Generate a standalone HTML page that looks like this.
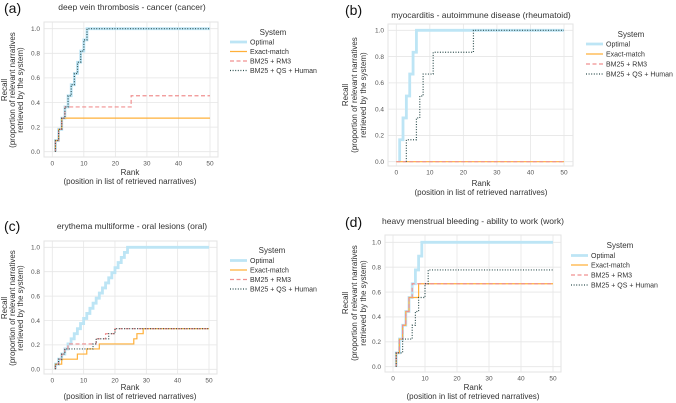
<!DOCTYPE html>
<html><head><meta charset="utf-8">
<style>
html,body{margin:0;padding:0;background:#fff;}
svg{display:block;font-family:"Liberation Sans",sans-serif;}
</style></head>
<body>
<svg id="fig" width="676" height="403" viewBox="0 0 676 403"></svg>
<script>
// ---- data (change points: rank at which recall steps up, recall value) ----
const xTicks=[0,10,20,30,40,50];
const yTicks=[0.0,0.2,0.4,0.6,0.8,1.0];
const seriesNames=["Optimal","Exact-match","BM25 + RM3","BM25 + QS + Human"];
const panelTitles=["deep vein thrombosis - cancer (cancer)","myocarditis - autoimmune disease (rheumatoid)","erythema multiforme - oral lesions (oral)","heavy menstrual bleeding - ability to work (work)"];
const panelLetters=["(a)","(b)","(c)","(d)"];

const aOptRanks=[1,2,3,4,5,6,7,8,9,10,11];
const aOptRecall=[0.091,0.182,0.273,0.364,0.455,0.545,0.636,0.727,0.818,0.909,1.0];
const aExactRanks=[1,2,3];
const aExactRecall=[0.091,0.182,0.273];
const aRm3Ranks=[1,2,3,4,25];
const aRm3Recall=[0.091,0.182,0.273,0.364,0.455];
const aQsRanks=[1,2,3,4,5,6,7,8,9,10,11];
const aQsRecall=[0.091,0.182,0.273,0.364,0.455,0.545,0.636,0.727,0.818,0.909,1.0];

const bOptRanks=[1,2,3,4,5,6];
const bOptRecall=[0.167,0.333,0.5,0.667,0.833,1.0];
const bExactRanks=[0];
const bExactRecall=[0];
const bRm3Ranks=[0];
const bRm3Recall=[0];
const bQsRanks=[3,6,7,8,11,23];
const bQsRecall=[0.167,0.333,0.5,0.667,0.833,1.0];

const cOptRanks=[1,2,3,4,5,6,7,8,9,10,11,12,13,14,15,16,17,18,19,20,21,22,23,24];
const cOptRecall=[0.042,0.083,0.125,0.167,0.208,0.25,0.292,0.333,0.375,0.417,0.458,0.5,0.542,0.583,0.625,0.667,0.708,0.75,0.792,0.833,0.875,0.917,0.958,1.0];
const cExactRanks=[1,3,8,11,15,26,27,29];
const cExactRecall=[0.042,0.083,0.125,0.167,0.208,0.25,0.292,0.333];
const cRm3Ranks=[1,2,3,4,5,14,17,20];
const cRm3Recall=[0.042,0.083,0.125,0.167,0.208,0.25,0.292,0.333];
const cQsRanks=[1,2,3,4,13,14,18,20];
const cQsRecall=[0.042,0.083,0.125,0.167,0.208,0.25,0.292,0.333];

const dOptRanks=[1,2,3,4,5,6,7,8,9];
const dOptRecall=[0.111,0.222,0.333,0.444,0.556,0.667,0.778,0.889,1.0];
const dExactRanks=[1,2,3,4,5,8];
const dExactRecall=[0.111,0.222,0.333,0.444,0.556,0.667];
const dRm3Ranks=[1,2,3,4,5,6];
const dRm3Recall=[0.111,0.222,0.333,0.444,0.556,0.667];
const dQsRanks=[1,3,6,7,8,10,11];
const dQsRecall=[0.111,0.222,0.333,0.444,0.556,0.667,0.778];

const panelData=[
 [[aOptRanks,aOptRecall],[aExactRanks,aExactRecall],[aRm3Ranks,aRm3Recall],[aQsRanks,aQsRecall]],
 [[bOptRanks,bOptRecall],[bExactRanks,bExactRecall],[bRm3Ranks,bRm3Recall],[bQsRanks,bQsRecall]],
 [[cOptRanks,cOptRecall],[cExactRanks,cExactRecall],[cRm3Ranks,cRm3Recall],[cQsRanks,cQsRecall]],
 [[dOptRanks,dOptRecall],[dExactRanks,dExactRecall],[dRm3Ranks,dRm3Recall],[dQsRanks,dQsRecall]]
];

// ---- layout ----
const layouts=[
 {fx0:44,fx1:218,fy0:22,fy1:157,x0:52.3,x50:210,y0:151.7,y1:28.7,title:[132,10],letter:[4,13],sys:[273,35],leg:[42,51.5,61,70.5],legx:230,rank:[130,175,184],ylab:[4,12,20],ylc:90},
 {fx0:388,fx1:573,fy0:24,fy1:166,x0:396.3,x50:564,y0:161.7,y1:30.3,title:[481,18],letter:[345,15],sys:[631,37],leg:[44,54,64,74],legx:586,rank:[481,186,195],ylab:[345,354,363],ylc:95},
 {fx0:44,fx1:217,fy0:241,fy1:374,x0:52.3,x50:209,y0:369.3,y1:247.3,title:[132,229],letter:[4,231],sys:[272,253],leg:[260.5,270,279.5,289],legx:230,rank:[130,390,399],ylab:[4,12,20],ylc:308},
 {fx0:385,fx1:561,fy0:235,fy1:372,x0:393,x50:553,y0:366.7,y1:242.3,title:[473,224],letter:[345,227],sys:[620,248],leg:[255.5,265,275,285],legx:571,rank:[473,390,399],ylab:[345,354,363],ylc:303}
];
const colors=["#bde5f5","#ffb03a","#f09090","#2f4f4f"];
const widths=[2.8,1.2,1.2,1.2];
const dashes=["","","4,2.5","1,1.6"];
const NS="http://www.w3.org/2000/svg";
const svg=document.getElementById('fig');
function mk(tag,attrs,parent,text){const e=document.createElementNS(NS,tag);for(const k in attrs)e.setAttribute(k,attrs[k]);if(text!==undefined)e.textContent=text;(parent||svg).appendChild(e);return e;}

layouts.forEach((L,p)=>{
 const g=mk('g',{});
 
 
 const sx=v=>L.x0+(L.x50-L.x0)*v/50;
 const sy=v=>L.y0+(L.y1-L.y0)*v;
 const fr=mk('rect',{x:L.fx0,y:L.fy0,width:L.fx1-L.fx0,height:L.fy1-L.fy0,fill:'#fff',stroke:'#e3e3e3','stroke-width':1},g);
 
 
 xTicks.forEach(t=>{
  const l=mk('line',{x1:sx(t),x2:sx(t),y1:L.fy0,y2:L.fy1,stroke:'#e6e6e6','stroke-width':0.8},g);
  
  
  const tx=mk('text',{x:sx(t),y:L.fy1+8.5,'font-size':6.5,fill:'#555','text-anchor':'middle'},g,String(t));
  
  
 });
 yTicks.forEach(t=>{
  const l=mk('line',{x1:L.fx0,x2:L.fx1,y1:sy(t),y2:sy(t),stroke:'#e6e6e6','stroke-width':0.8},g);
  
  
  const tx=mk('text',{x:L.fx0-4,y:sy(t)+2.3,'font-size':6.5,fill:'#555','text-anchor':'end'},g,t.toFixed(1));
  
  
 });
 panelData[p].forEach((s,i)=>{
  const r=s[0],v=s[1];
  let d='M'+sx(r[0])+','+sy(0);
  for(let k=0;k<r.length;k++){
   d+=' L'+sx(r[k])+','+sy(k?v[k-1]:0)+' L'+sx(r[k])+','+sy(v[k]);
  }
  d+=' L'+sx(50)+','+sy(v[v.length-1]);
  const path=mk('path',{d:d,fill:'none',stroke:colors[i],'stroke-width':widths[i],'stroke-dasharray':dashes[i]},g);
  
  
 });
 const ti=mk('text',{x:L.title[0],y:L.title[1],'font-size':8.5,fill:'#333','text-anchor':'middle'},g,panelTitles[p]);
 
 
 const le=mk('text',{x:L.letter[0],y:L.letter[1],'font-size':14,fill:'#111'},g,panelLetters[p]);
 
 
 const r1=mk('text',{x:L.rank[0],y:L.rank[1],'font-size':8,fill:'#333','text-anchor':'middle'},g,'Rank');
 
 
 const r2=mk('text',{x:L.rank[0],y:L.rank[2],'font-size':8,fill:'#333','text-anchor':'middle'},g,'(position in list of retrieved narratives)');
 
 
 ['Recall','(proportion of relevant narratives','retrieved by the system)'].forEach((t,k)=>{
  const x=L.ylab[k]+3;
  const y=mk('text',{x:x,y:L.ylc,'font-size':8,fill:'#333','text-anchor':'middle',transform:'rotate(-90 '+x+' '+L.ylc+')'},g,t);
  
  
 });
 const lg=mk('g',{},g);
 
 
 const st=mk('text',{x:L.sys[0],y:L.sys[1],'font-size':8,fill:'#333','text-anchor':'middle'},lg,'System');
 
 
 seriesNames.forEach((n,i)=>{
  const yy=L.leg[i];
  const ln=mk('line',{x1:L.legx,x2:L.legx+17,y1:yy,y2:yy,stroke:colors[i],'stroke-width':widths[i],'stroke-dasharray':dashes[i]},lg);
  
  
  const tx=mk('text',{x:L.legx+20,y:yy+2.5,'font-size':7,fill:'#333'},lg,n);
  
  
 });
});
</script>
</body></html>
